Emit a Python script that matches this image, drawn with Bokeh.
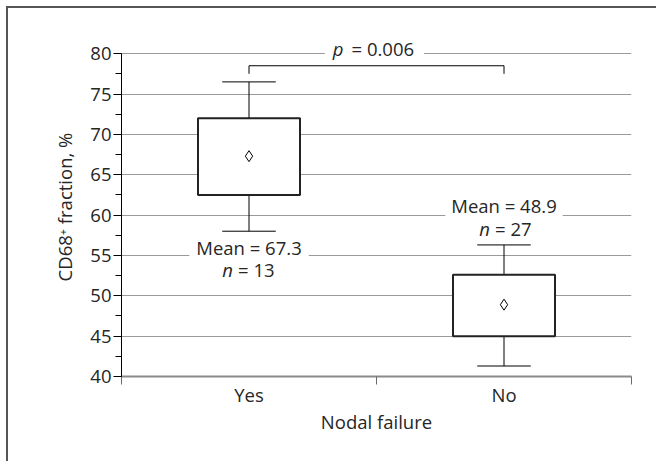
from bokeh.plotting import figure
from bokeh.models import (Range1d, FixedTicker, SingleIntervalTicker, Label, ColumnDataSource)
from bokeh.embed import file_html
from bokeh.resources import INLINE

# ---- data ----
groups = ["Yes", "No"]
q1 = [62.5, 45.0]
q3 = [72.0, 52.6]
whisker_low = [58.0, 41.3]
whisker_high = [76.5, 56.3]
means = [67.3, 48.9]
counts = [13, 27]
p_value = "0.006"
bracket_low, bracket_high = 77.5, 78.5
y_min, y_max = 40, 80
y_ticks_major = 5

FONT = "Open Sans"
FS = "18.5px"
TXT = "#262626"

xpos = [i + 0.5 for i in range(len(groups))]

p = figure(width=656, height=461, output_backend="svg", toolbar_location=None,
           x_range=Range1d(0, 2), y_range=Range1d(y_min, 82),
           min_border_left=121, min_border_right=25, min_border_top=37, min_border_bottom=85)
p.outline_line_color = None
p.background_fill_color = "white"
p.border_fill_color = None
p.styles = {
    "background": "linear-gradient(#555555, #555555) 6px 6px / 2px 100% no-repeat, "
                  "linear-gradient(#555555, #555555) 6px 6px / 100% 2px no-repeat, white",
}

# grid
p.xgrid.visible = False
p.ygrid.grid_line_color = "#9a9a9a"
p.ygrid.grid_line_width = 1
p.ygrid.bounds = (y_min, y_max)
p.ygrid.ticker = SingleIntervalTicker(interval=y_ticks_major)

# y axis
ya = p.yaxis[0]
ya.ticker = SingleIntervalTicker(interval=y_ticks_major, num_minor_ticks=2)
ya.bounds = (y_min, y_max)
ya.axis_line_color = "black"
ya.major_tick_line_color = "black"
ya.minor_tick_line_color = "black"
ya.major_tick_out = 8
ya.major_tick_in = 0
ya.minor_tick_out = 6
ya.minor_tick_in = 0
ya.major_label_text_font = FONT
ya.major_label_text_font_size = FS
ya.major_label_text_color = TXT
ya.major_label_standoff = 2
ya.axis_label = "CD68\u207a fraction, %"
ya.axis_label_text_font = FONT
ya.axis_label_text_font_size = FS
ya.axis_label_text_font_style = "normal"
ya.axis_label_text_color = TXT
ya.axis_label_standoff = 10

# x axis
xa = p.xaxis[0]
xa.ticker = FixedTicker(ticks=xpos, minor_ticks=[0, 1, 2])
xa.major_label_overrides = {x: g for x, g in zip(xpos, groups)}
xa.bounds = (0, 2)
xa.axis_line_color = "#8a8a8a"
xa.axis_line_width = 2
xa.major_tick_out = 0
xa.major_tick_in = 0
xa.minor_tick_out = 8
xa.minor_tick_in = 0
xa.minor_tick_line_color = "#6a6a6a"
xa.minor_tick_line_width = 1
xa.major_label_text_font = FONT
xa.major_label_text_font_size = FS
xa.major_label_text_color = TXT
xa.major_label_standoff = -3
xa.axis_label = "Nodal failure"
xa.axis_label_text_font = FONT
xa.axis_label_text_font_size = FS
xa.axis_label_text_font_style = "normal"
xa.axis_label_text_color = TXT
xa.axis_label_standoff = -1

src = ColumnDataSource(dict(x=xpos, q1=q1, q3=q3, lo=whisker_low, hi=whisker_high, mean=means))

# whiskers
p.segment(x0="x", y0="q3", x1="x", y1="hi", source=src, line_color="black", line_width=1)
p.segment(x0="x", y0="lo", x1="x", y1="q1", source=src, line_color="black", line_width=1)
cap = 0.105
p.segment(x0=[x - cap for x in xpos], y0=whisker_high, x1=[x + cap for x in xpos], y1=whisker_high,
          line_color="black", line_width=1)
p.segment(x0=[x - cap for x in xpos], y0=whisker_low, x1=[x + cap for x in xpos], y1=whisker_low,
          line_color="black", line_width=1)
# boxes
p.vbar(x="x", width=0.4, bottom="q1", top="q3", source=src,
       fill_color="white", line_color="#222222", line_width=2)
# means
p.scatter(x="x", y="mean", source=src, marker="diamond", size=11,
          fill_color="white", line_color="black", line_width=1)

# significance bracket
p.line(x=[xpos[0], xpos[0], xpos[1], xpos[1]],
       y=[bracket_low, bracket_high, bracket_high, bracket_low],
       line_color="black", line_width=1)


def lab(x, y, text, align, xoff=0, yoff=0, italic=False, bg=True, padl=0, padr=0):
    l = Label(x=x, y=y, text=text, text_align=align, text_baseline="middle",
              x_offset=xoff, y_offset=yoff,
              text_font=FONT, text_font_size=FS, text_color=TXT,
              text_font_style="italic" if italic else "normal",
              background_fill_color="white" if bg else None,
              padding=dict(left=padl, right=padr, top=0, bottom=0))
    p.add_layout(l)


# p-value label straddling the 80 gridline
lab(1.0, y_max, "p", "right", xoff=-25, yoff=5, italic=True, padl=8, padr=8)
lab(1.0, y_max, "= " + p_value, "left", xoff=-25, yoff=5, padr=10)

# Yes annotations (below box)
lab(xpos[0], 56.0, "Mean = %.1f" % means[0], "center", padl=7, padr=7)
lab(xpos[0], 53.2, "n", "right", xoff=-16, italic=True, bg=False)
lab(xpos[0], 53.2, "= %d" % counts[0], "left", xoff=-11, bg=False)

# No annotations (above whisker)
lab(xpos[1], 61.2, "Mean = %.1f" % means[1], "center", padl=6, padr=6)
lab(xpos[1], 58.3, "n", "right", xoff=-14, italic=True, bg=False)
lab(xpos[1], 58.3, "= %d" % counts[1], "left", xoff=-9, bg=False)

open("out.html", "w").write(file_html(p, INLINE))
